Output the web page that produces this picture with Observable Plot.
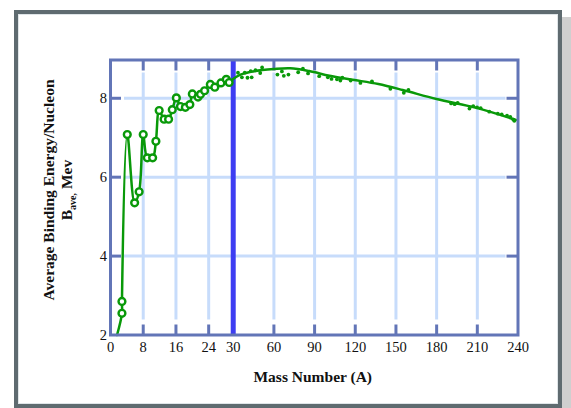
<!DOCTYPE html>
<html>
<head>
<meta charset="utf-8">
<script src="https://cdn.jsdelivr.net/npm/d3@7"></script>
<script src="https://cdn.jsdelivr.net/npm/@observablehq/plot@0.6"></script>
<style>
  html, body { margin: 0; padding: 0; background: #fff; }
  #wrap { position: relative; width: 571px; height: 408px; overflow: hidden; }
  #shadow { position: absolute; left: 562px; top: 17px; width: 12px; height: 400px; background: #cfcfcf; }
  #box { position: absolute; left: 14px; top: 10px; width: 540px; height: 390px; border: 4px solid #5f6b70; background: #fff; box-shadow: inset 0 0 0 1px #dfe5e8; }
  #chart { position: absolute; left: 0; top: 0; }
</style>
</head>
<body>
<div id="wrap">
  <div id="shadow"></div>
  <div id="box"></div>
  <div id="chart"></div>
</div>
<script>
// ---- data ----
// open circles (light nuclei), mass number A and binding energy per nucleon (MeV)
const circleA = [2.8, 2.8, 4.1, 5.9, 7.0, 8.0, 9.0, 10.3, 11.1, 11.9, 13.1, 14.2, 15.1, 16.1, 17.1, 18.3, 19.4, 20.0, 21.4, 22.0, 23.0, 24.4, 25.5, 27.0, 28.3, 29.0];
const circleB = [2.55, 2.85, 7.08, 5.35, 5.63, 7.08, 6.49, 6.49, 6.91, 7.69, 7.47, 7.47, 7.71, 8.01, 7.79, 7.77, 7.84, 8.11, 8.03, 8.10, 8.19, 8.35, 8.28, 8.39, 8.48, 8.40];
// start of the connecting line at the bottom edge
const startA = [1.6];
const startB = [2.0];
// smooth trend curve for heavier nuclei
const curveA = [30, 33.5, 43, 60, 72, 86, 101, 118, 137, 155, 180, 210, 238.5];
const curveB = [8.49, 8.57, 8.67, 8.74, 8.76, 8.69, 8.57, 8.47, 8.36, 8.21, 7.98, 7.75, 7.45];
// small filled dots (heavier nuclei)
const dotA = [33.5, 36.4, 38.5, 40.5, 42.9, 43.6, 46.4, 49.9, 51.3, 62.6, 65.9, 67.3, 70.7, 77.9, 81.4, 85.2, 93.4, 99.8, 102.5, 106.5, 109, 110.5, 116.6, 123.8, 132.3, 145.9, 155.8, 159.2, 190.7, 193.3, 195.5, 204.2, 207, 209.8, 212.5, 218.8, 225.1, 228, 231.9, 234.3, 236.5, 237.3];
const dotB = [8.65, 8.53, 8.65, 8.52, 8.69, 8.53, 8.71, 8.64, 8.78, 8.60, 8.68, 8.57, 8.60, 8.66, 8.75, 8.63, 8.56, 8.53, 8.49, 8.48, 8.45, 8.52, 8.45, 8.39, 8.43, 8.24, 8.14, 8.21, 7.87, 7.85, 7.88, 7.74, 7.80, 7.77, 7.75, 7.66, 7.61, 7.59, 7.56, 7.53, 7.46, 7.43];
// axis ticks
const xTickLabels = [0, 8, 16, 24, 30, 60, 90, 120, 150, 180, 210, 240];
const xGridTicks = [8, 16, 24, 60, 90, 120, 150, 180, 210];
const xBreak = [30];
const yTickLabels = [2, 4, 6, 8];
const yGridTicks = [4, 6, 8];
const xMax = 240;
const yDomain = [2, 8.97];
const xTitle = "Mass Number (A)";
const yTitle1 = "Average Binding Energy/Nucleon";

// ---- broken x axis: 0–30 expanded, 30–240 compressed ----
const BREAK = 30, K = 0.3315;
const fx = (A) => (A <= BREAK ? A : BREAK + (A - BREAK) * K);

const circles = circleA.map((A, i) => ({A, B: circleB[i]}));
const lineData = [
  ...startA.map((A, i) => ({A, B: startB[i]})),
  ...circles,
  ...curveA.map((A, i) => ({A, B: curveB[i]}))
];
const dots = dotA.map((A, i) => ({A, B: dotB[i]}));

const W = 571, H = 408, mL = 110, mR = 53.5, mT = 59.5, mB = 73.5;
const frameW = W - mL - mR, frameH = H - mT - mB;
const green = "#099909", frameColor = "#6275b7", gridColor = "#c7dcfb", breakColor = "#3d3df2";
const serif = "'Liberation Serif', 'Times New Roman', serif";

const chart = Plot.plot({
  width: W, height: H,
  marginLeft: mL, marginRight: mR, marginTop: mT, marginBottom: mB,
  style: {background: "none", overflow: "visible"},
  x: {domain: [0, fx(xMax)], axis: null},
  y: {domain: yDomain, axis: null},
  marks: [
    // gridlines
    Plot.ruleY(yGridTicks, {y: d => d, stroke: gridColor, strokeWidth: 3, insetLeft: 14, insetRight: 12}),
    Plot.ruleX(xGridTicks, {x: fx, stroke: gridColor, strokeWidth: 3, insetTop: 13, insetBottom: 15}),
    // inward ticks
    Plot.ruleY(yGridTicks, {y: d => d, stroke: frameColor, strokeWidth: 3, insetRight: frameW - 11}),
    Plot.ruleY(yGridTicks, {y: d => d, stroke: frameColor, strokeWidth: 3, insetLeft: frameW - 11}),
    Plot.ruleX(xGridTicks, {x: fx, stroke: frameColor, strokeWidth: 3, insetTop: frameH - 10}),
    Plot.ruleX(xGridTicks, {x: fx, stroke: frameColor, strokeWidth: 3, insetBottom: frameH - 11}),
    // axis break line
    Plot.ruleX(xBreak, {x: fx, stroke: breakColor, strokeWidth: 5}),
    // data
    Plot.line(lineData, {x: d => fx(d.A), y: "B", stroke: green, strokeWidth: 2.5, curve: "catmull-rom"}),
    Plot.dot(circles, {x: d => fx(d.A), y: "B", r: 3.4, stroke: green, strokeWidth: 2.4, fill: "white"}),
    Plot.dot(dots, {x: d => fx(d.A), y: "B", r: 1.9, fill: green}),
    Plot.frame({stroke: frameColor, strokeWidth: 3}),
    // tick labels
    Plot.text(xTickLabels, {x: fx, text: d => String(d), frameAnchor: "bottom", dy: 12.5, lineAnchor: "middle", fontFamily: serif, fontSize: 14.5, fill: "#111"}),
    Plot.text(yTickLabels, {y: d => d, text: d => String(d), frameAnchor: "left", dx: -3.5, textAnchor: "end", lineAnchor: "middle", fontFamily: serif, fontSize: 14.5, fill: "#111"}),
    // x title
    Plot.text([xTitle], {frameAnchor: "bottom", dx: -1.5, dy: 42, lineAnchor: "middle", fontFamily: serif, fontSize: 15.5, fontWeight: "bold", fill: "#111"})
  ]
});

// y title (two lines, second with a subscript)
const svg = d3.select(chart);
const cy = mT + frameH / 2 - 7;
function yTitleText(x) {
  return svg.append("text")
    .attr("transform", `translate(${x},${cy}) rotate(-90)`)
    .attr("text-anchor", "middle")
    .attr("dy", "0.32em")
    .attr("font-family", serif)
    .attr("font-weight", "bold")
    .attr("font-size", 15.5)
    .attr("fill", "#111");
}
yTitleText(mL - 61).text(yTitle1);
const t = yTitleText(mL - 43);
t.append("tspan").text("B");
t.append("tspan").attr("font-size", 10).attr("dy", 4).text("ave");
t.append("tspan").attr("font-size", 10).text(",");
t.append("tspan").attr("dy", -4).text(" Mev");

document.getElementById("chart").appendChild(chart);
</script>
</body>
</html>
